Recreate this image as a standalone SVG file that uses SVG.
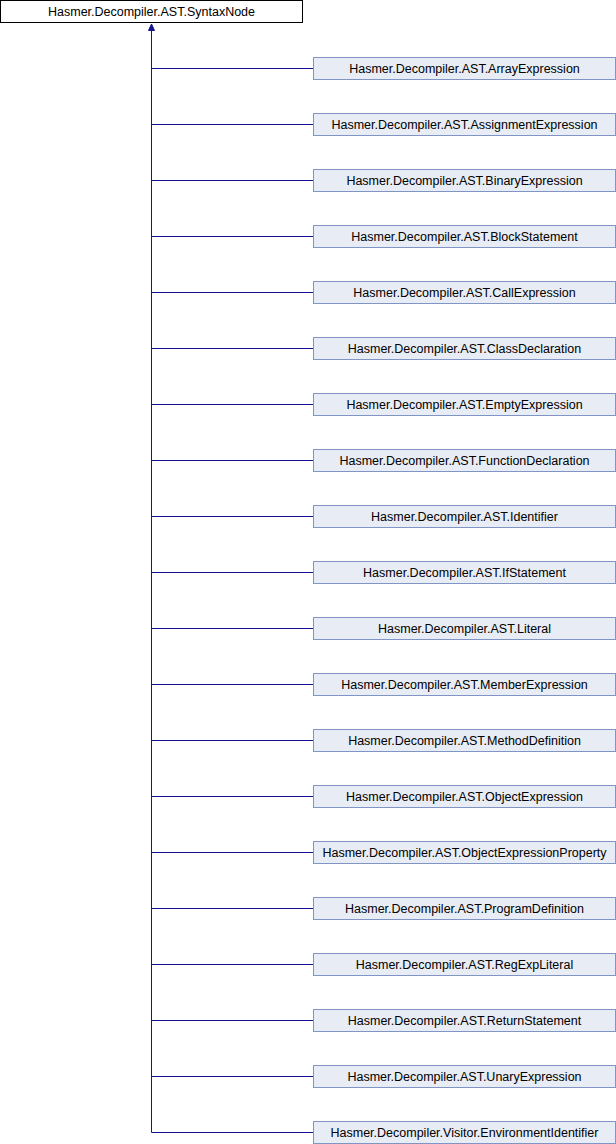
<svg xmlns="http://www.w3.org/2000/svg" width="616" height="1144" viewBox="0 0 616 1144">
<style>
.root rect{fill:#ffffff;stroke:#000000;stroke-width:1}
.child rect{fill:#e8ecf5;stroke:#8094c6;stroke-width:1}
text{font-family:"Liberation Sans",Arial,sans-serif;font-size:12.5px;fill:#000000;text-anchor:middle}
.edges path{fill:none;stroke:#14148c;stroke-width:1}
.edges polygon{fill:#14148c;stroke:#14148c;stroke-width:1}
</style>
<rect width="616" height="1144" fill="#ffffff"/>
<g class="edges" id="connectors">
<path d="M151.5,30 V1132.5"/>
<polygon points="151.5,24 148.5,30.5 154.5,30.5"/>
<path d="M151.5,68.5 H313"/>
<path d="M151.5,124.5 H313"/>
<path d="M151.5,180.5 H313"/>
<path d="M151.5,236.5 H313"/>
<path d="M151.5,292.5 H313"/>
<path d="M151.5,348.5 H313"/>
<path d="M151.5,404.5 H313"/>
<path d="M151.5,460.5 H313"/>
<path d="M151.5,516.5 H313"/>
<path d="M151.5,572.5 H313"/>
<path d="M151.5,628.5 H313"/>
<path d="M151.5,684.5 H313"/>
<path d="M151.5,740.5 H313"/>
<path d="M151.5,796.5 H313"/>
<path d="M151.5,852.5 H313"/>
<path d="M151.5,908.5 H313"/>
<path d="M151.5,964.5 H313"/>
<path d="M151.5,1020.5 H313"/>
<path d="M151.5,1076.5 H313"/>
<path d="M151.5,1132.5 H313"/>
</g>
<g id="SyntaxNode" class="root"><rect x="0.5" y="0.5" width="302" height="22"/><text x="151.5" y="15.5">Hasmer.Decompiler.AST.SyntaxNode</text></g>
<g id="ArrayExpression" class="child" transform="translate(0,0)"><rect x="313.5" y="57.5" width="302" height="22"/><text x="464.5" y="72.5">Hasmer.Decompiler.AST.ArrayExpression</text></g>
<g id="AssignmentExpression" class="child" transform="translate(0,56)"><rect x="313.5" y="57.5" width="302" height="22"/><text x="464.5" y="72.5">Hasmer.Decompiler.AST.AssignmentExpression</text></g>
<g id="BinaryExpression" class="child" transform="translate(0,112)"><rect x="313.5" y="57.5" width="302" height="22"/><text x="464.5" y="72.5">Hasmer.Decompiler.AST.BinaryExpression</text></g>
<g id="BlockStatement" class="child" transform="translate(0,168)"><rect x="313.5" y="57.5" width="302" height="22"/><text x="464.5" y="72.5">Hasmer.Decompiler.AST.BlockStatement</text></g>
<g id="CallExpression" class="child" transform="translate(0,224)"><rect x="313.5" y="57.5" width="302" height="22"/><text x="464.5" y="72.5">Hasmer.Decompiler.AST.CallExpression</text></g>
<g id="ClassDeclaration" class="child" transform="translate(0,280)"><rect x="313.5" y="57.5" width="302" height="22"/><text x="464.5" y="72.5">Hasmer.Decompiler.AST.ClassDeclaration</text></g>
<g id="EmptyExpression" class="child" transform="translate(0,336)"><rect x="313.5" y="57.5" width="302" height="22"/><text x="464.5" y="72.5">Hasmer.Decompiler.AST.EmptyExpression</text></g>
<g id="FunctionDeclaration" class="child" transform="translate(0,392)"><rect x="313.5" y="57.5" width="302" height="22"/><text x="464.5" y="72.5">Hasmer.Decompiler.AST.FunctionDeclaration</text></g>
<g id="Identifier" class="child" transform="translate(0,448)"><rect x="313.5" y="57.5" width="302" height="22"/><text x="464.5" y="72.5">Hasmer.Decompiler.AST.Identifier</text></g>
<g id="IfStatement" class="child" transform="translate(0,504)"><rect x="313.5" y="57.5" width="302" height="22"/><text x="464.5" y="72.5">Hasmer.Decompiler.AST.IfStatement</text></g>
<g id="Literal" class="child" transform="translate(0,560)"><rect x="313.5" y="57.5" width="302" height="22"/><text x="464.5" y="72.5">Hasmer.Decompiler.AST.Literal</text></g>
<g id="MemberExpression" class="child" transform="translate(0,616)"><rect x="313.5" y="57.5" width="302" height="22"/><text x="464.5" y="72.5">Hasmer.Decompiler.AST.MemberExpression</text></g>
<g id="MethodDefinition" class="child" transform="translate(0,672)"><rect x="313.5" y="57.5" width="302" height="22"/><text x="464.5" y="72.5">Hasmer.Decompiler.AST.MethodDefinition</text></g>
<g id="ObjectExpression" class="child" transform="translate(0,728)"><rect x="313.5" y="57.5" width="302" height="22"/><text x="464.5" y="72.5">Hasmer.Decompiler.AST.ObjectExpression</text></g>
<g id="ObjectExpressionProperty" class="child" transform="translate(0,784)"><rect x="313.5" y="57.5" width="302" height="22"/><text x="464.5" y="72.5">Hasmer.Decompiler.AST.ObjectExpressionProperty</text></g>
<g id="ProgramDefinition" class="child" transform="translate(0,840)"><rect x="313.5" y="57.5" width="302" height="22"/><text x="464.5" y="72.5">Hasmer.Decompiler.AST.ProgramDefinition</text></g>
<g id="RegExpLiteral" class="child" transform="translate(0,896)"><rect x="313.5" y="57.5" width="302" height="22"/><text x="464.5" y="72.5">Hasmer.Decompiler.AST.RegExpLiteral</text></g>
<g id="ReturnStatement" class="child" transform="translate(0,952)"><rect x="313.5" y="57.5" width="302" height="22"/><text x="464.5" y="72.5">Hasmer.Decompiler.AST.ReturnStatement</text></g>
<g id="UnaryExpression" class="child" transform="translate(0,1008)"><rect x="313.5" y="57.5" width="302" height="22"/><text x="464.5" y="72.5">Hasmer.Decompiler.AST.UnaryExpression</text></g>
<g id="EnvironmentIdentifier" class="child" transform="translate(0,1064)"><rect x="313.5" y="57.5" width="302" height="22"/><text x="464.5" y="72.5">Hasmer.Decompiler.Visitor.EnvironmentIdentifier</text></g>
</svg>
